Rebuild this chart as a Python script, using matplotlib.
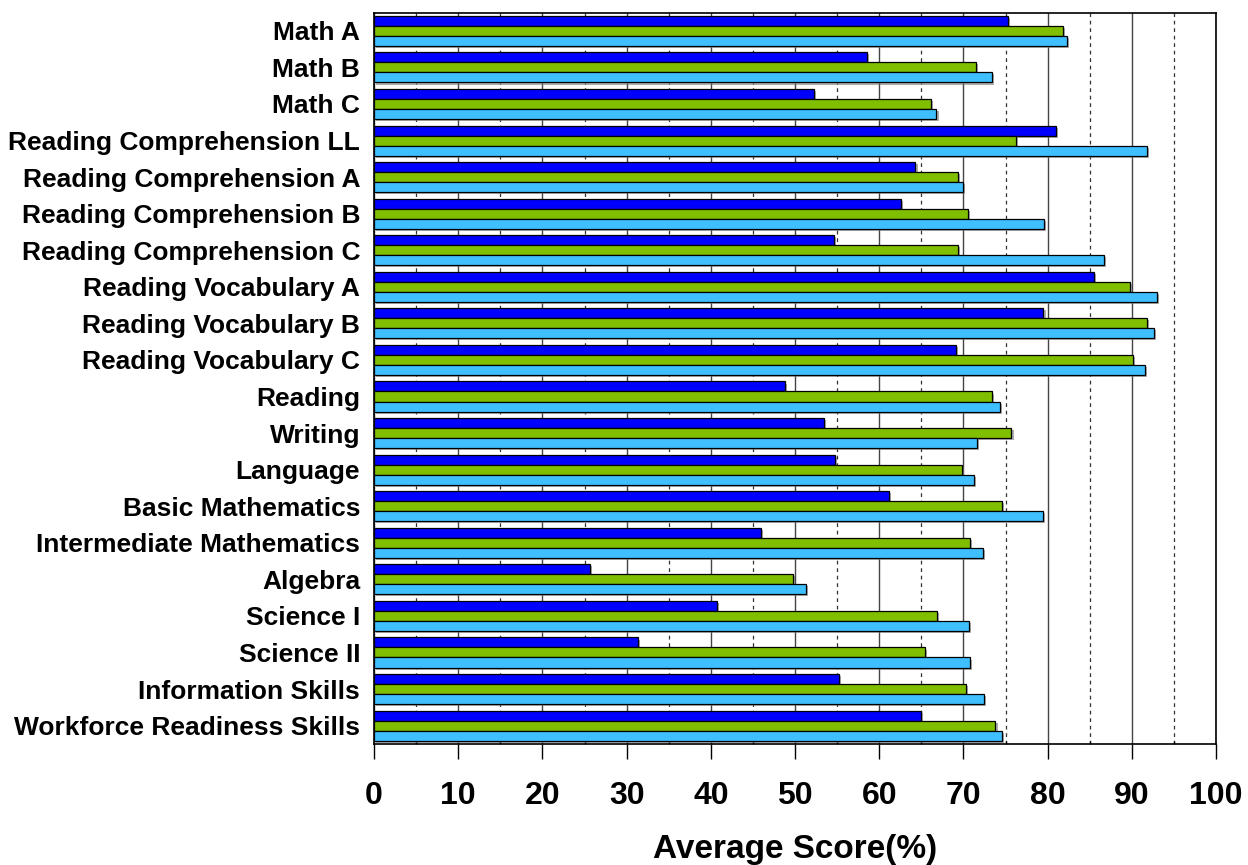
import numpy as np
import matplotlib
matplotlib.use('Agg')
import matplotlib.pyplot as plt
import matplotlib.patheffects as pe
from matplotlib.ticker import MultipleLocator

plt.rcParams['font.family'] = ['Liberation Sans', 'DejaVu Sans']
plt.rcParams['font.weight'] = 'bold'

# data
subjects = ['Math A', 'Math B', 'Math C', 'Reading Comprehension LL',
            'Reading Comprehension A', 'Reading Comprehension B',
            'Reading Comprehension C', 'Reading Vocabulary A',
            'Reading Vocabulary B', 'Reading Vocabulary C', 'Reading',
            'Writing', 'Language', 'Basic Mathematics',
            'Intermediate Mathematics', 'Algebra', 'Science I', 'Science II',
            'Information Skills', 'Workforce Readiness Skills']
series_blue = [75.3, 58.5, 52.2, 81.0, 64.3, 62.6, 54.6, 85.5, 79.5, 69.1,
               48.8, 53.4, 54.7, 61.2, 46.0, 25.6, 40.7, 31.3, 55.2, 64.9]
series_green = [81.8, 71.5, 66.1, 76.2, 69.4, 70.5, 69.3, 89.8, 91.8, 90.1,
                73.4, 75.7, 69.8, 74.6, 70.8, 49.7, 66.9, 65.4, 70.3, 73.8]
series_light = [82.3, 73.4, 66.8, 91.8, 69.9, 79.6, 86.7, 93.0, 92.6, 91.6,
                74.3, 71.6, 71.3, 79.4, 72.3, 51.3, 70.7, 70.8, 72.4, 74.6]

colors = ['#0000FF', '#80BF00', '#40BFFF']

fig = plt.figure(figsize=(12.48, 8.65), dpi=100)
ax = fig.add_axes([0.2997, 0.1400, 0.6747, 0.8455])

y = np.arange(len(subjects))
h = 0.274
shadow = [pe.SimplePatchShadow(offset=(1.5, -1.5), shadow_rgbFace='#777777', alpha=0.6), pe.Normal()]
for k, (vals, c) in enumerate(zip([series_blue, series_green, series_light], colors)):
    bars = ax.barh(y + (k - 1) * h, vals, height=h, color=c,
                   edgecolor='black', linewidth=0.9, zorder=3)
    for b in bars:
        b.set_path_effects(shadow)

ax.set_xlim(0, 100)
ax.set_ylim(len(subjects) - 0.5, -0.5)
ax.set_yticks(y)
ax.set_yticklabels(subjects, fontsize=19, fontweight='bold')
ax.tick_params(axis='y', length=0, pad=10)

ax.xaxis.set_major_locator(MultipleLocator(10))
ax.xaxis.set_minor_locator(MultipleLocator(5))
ax.tick_params(axis='x', which='major', direction='out', length=11, width=1,
               pad=16, labelsize=23)
ax.tick_params(axis='x', which='minor', direction='in', length=2.5, width=1)
for lbl in ax.get_xticklabels():
    lbl.set_fontweight('bold')

# gridlines
ax.grid(axis='x', which='major', color='#444444', linewidth=1.0, zorder=1)
ax.grid(axis='x', which='minor', color='#333333', linewidth=0.9,
        linestyle=(0, (3, 3)), zorder=1)
ax.set_axisbelow(True)

for s in ax.spines.values():
    s.set_linewidth(1.2)
    s.set_color('black')

ax.set_xlabel('Average Score(%)', fontsize=24, fontweight='bold', labelpad=16)

fig.savefig('out.png', dpi=100)
